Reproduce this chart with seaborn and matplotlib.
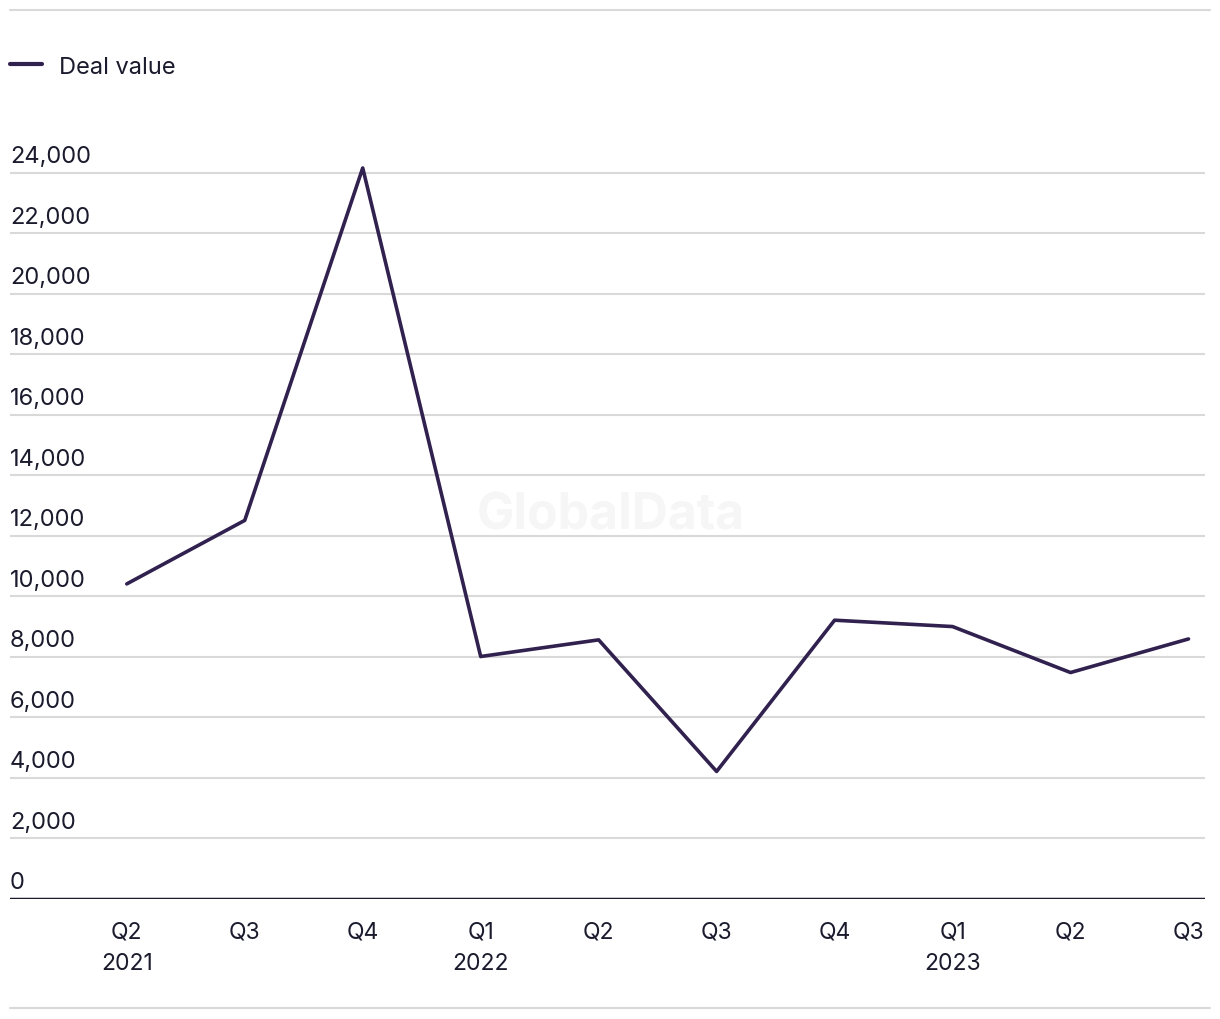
import pandas as pd
import seaborn as sns
import matplotlib.pyplot as plt
from matplotlib.lines import Line2D
import matplotlib.transforms as mtransforms

# Données
quarters = ["Q2", "Q3", "Q4", "Q1", "Q2", "Q3", "Q4", "Q1", "Q2", "Q3"]
years = ["2021", "", "", "2022", "", "", "", "2023", "", ""]
deal_value = [10400, 12500, 24150, 8000, 8550, 4200, 9200, 8990, 7470, 8580]
y_ticks = [0, 2000, 4000, 6000, 8000, 10000, 12000, 14000, 16000, 18000, 20000, 22000, 24000]

line_color = "#31214f"
text_color = "#1b1b2e"
grid_color = "#d9d9d9"

sns.set_theme(style="white")
plt.rcParams['font.family'] = ['Inter', 'DejaVu Sans']

df = pd.DataFrame({"idx": range(len(quarters)), "value": deal_value})
labels = [q + ("\n" + y if y else "") for q, y in zip(quarters, years)]

fig = plt.figure(figsize=(12.2, 10.2), dpi=100)
ymax = 24400
base_px = 899.5
bottom = (1020 - base_px) / 1020
top = (1020 - (base_px - ymax * 726 / 24000)) / 1020
ax = fig.add_axes([10 / 1220, bottom, 1195 / 1220, top - bottom])

# lignes de grille
for v in y_ticks[1:]:
    ax.axhline(v, color=grid_color, lw=1.5, zorder=0)
ax.axhline(0, color=text_color, lw=2.5, zorder=3)

sns.lineplot(data=df, x="idx", y="value", ax=ax, color=line_color, lw=2.6,
             label="Deal value", zorder=4, legend=False)

ax.set_xlim(-0.99, 9.14)
ax.set_ylim(0, ymax)
ax.set_xticks(range(len(labels)))
ax.set_xticklabels(labels, fontsize=16.5, color=text_color, linespacing=1.55)
ax.tick_params(axis="x", length=0, pad=16)
ax.set_yticks([])
ax.set_xlabel("")
ax.set_ylabel("")
for s in ax.spines.values():
    s.set_visible(False)

# étiquettes de l'axe y au-dessus des lignes
trans = mtransforms.blended_transform_factory(ax.transAxes, ax.transData)
for v in y_ticks:
    ax.text(0, v + 180, f"{v:,}", transform=trans, ha="left", va="bottom",
            fontsize=17, color=text_color)

# filigrane
ax.text(0.503, 0.52, "GlobalData", transform=ax.transAxes, ha="center", va="center",
        fontsize=36, fontweight="bold", color="#f6f6f6", zorder=1)

# légende
fig.lines.append(Line2D([10 / 1220, 42 / 1220], [1 - 65 / 1020, 1 - 65 / 1020],
                        color=line_color, lw=3, solid_capstyle="round", transform=fig.transFigure))
fig.text(59 / 1220, 1 - 68 / 1020, "Deal value", ha="left", va="center",
         fontsize=17, color=text_color)

# lignes de séparation haut / bas
fig.lines.append(Line2D([10 / 1220, 1210 / 1220], [1 - 11 / 1020, 1 - 11 / 1020],
                        color=grid_color, lw=1.5, transform=fig.transFigure))
fig.lines.append(Line2D([10 / 1220, 1210 / 1220], [1 - 1009 / 1020, 1 - 1009 / 1020],
                        color=grid_color, lw=1.5, transform=fig.transFigure))

fig.savefig("out.png", dpi=100)
